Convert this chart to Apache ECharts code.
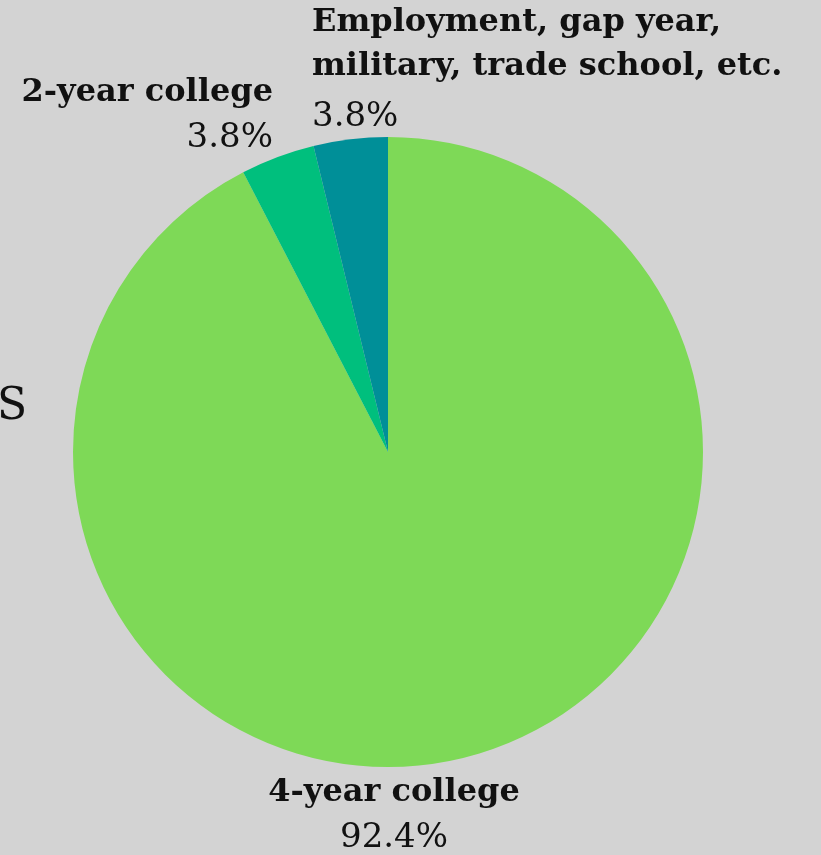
<!DOCTYPE html>
<html><head><meta charset="utf-8">
<script src="https://cdn.jsdelivr.net/npm/echarts@6/dist/echarts.min.js"></script>
<style>html,body{margin:0;padding:0;background:#d3d3d3}#c{width:821px;height:855px}</style>
</head><body><div id="c"></div>
<script>
const categories = ['4-year college', '2-year college', 'Employment, gap year,\nmilitary, trade school, etc.'];
const values = [92.4, 3.8, 3.8];
const colors = ['#7ed957', '#00bf7d', '#008f98'];

const chart = echarts.init(document.getElementById('c'));
const FONT = '"DejaVu Serif", serif';
const labelPos = [
  {x: 394, y: 771, align: 'center'},
  {x: 273, y: 71, align: 'right'},
  {x: 312, y: 1, align: 'left'}
];
chart.setOption({
  backgroundColor: '#d3d3d3',
  animation: false,
  graphic: [{type: 'text', left: -3, top: 386, style: {text: 'S', font: '44px "DejaVu Serif", serif', fill: '#111'}}],
  series: [{
    type: 'pie',
    center: [388, 452],
    radius: [0, 315],
    startAngle: 90,
    clockwise: true,
    percentPrecision: 1,
    data: categories.map((n, i) => ({name: n, value: values[i], itemStyle: {color: colors[i]}})),
    labelLine: {show: false},
    label: {
      show: true,
      position: 'outside',
      overflow: 'none',
      formatter: function (p) {
        const ps = p.dataIndex === 2 ? 'p2' : 'p';
        return '{b|' + p.name + '}\n{' + ps + '|' + p.percent.toFixed(1) + '%}';
      },
      color: '#111',
      rich: {
        b: {fontFamily: FONT, fontWeight: 'bold', fontSize: 32, lineHeight: 44, color: '#111'},
        p: {fontFamily: FONT, fontSize: 34, lineHeight: 46, color: '#111'},
        p2: {fontFamily: FONT, fontSize: 34, lineHeight: 56, color: '#111'}
      }
    },
    labelLayout: function (p) {
      const lp = labelPos[p.dataIndex];
      return {x: lp.x, y: lp.y, align: lp.align, verticalAlign: 'top'};
    }
  }]
});
</script></body></html>
